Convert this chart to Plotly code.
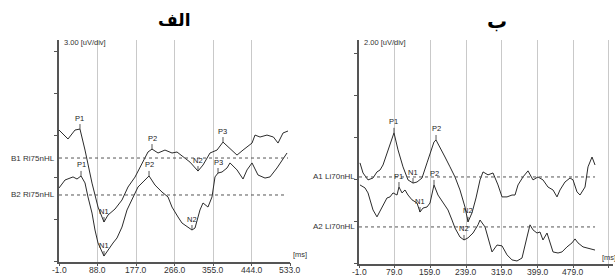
import numpy as np
import plotly.graph_objects as go

# ---------------- DATA ----------------
# Panel "الف" (left): time in ms, amplitude in uV relative to each trace baseline
b1_time = [-1.0, 19.8, 36.0, 47.5, 59.1, 75.3, 89.2, 103.0, 112.3, 128.5, 144.6, 158.5, 174.7,
           190.9, 204.7, 214.0, 227.9, 244.0, 260.2, 271.8, 285.7, 301.8, 320.3, 331.9, 348.1,
           364.3, 378.1, 394.3, 410.5, 424.4, 445.2, 452.1, 463.7, 479.8, 494.7, 505.3, 516.9, 528.4]
b1_amp = [2.0, 1.36, 2.0, 2.07, 0.57, -1.79, -3.5, -4.57, -4.07, -3.64, -3.0, -2.07, -1.36,
          -0.36, 0.43, 0.64, 0.36, 0.57, 0.36, 0.43, 0.07, -0.29, -0.93, -0.5, 0.36,
          0.57, 1.14, 0.71, 0.21, 0.57, 1.07, 1.64, 1.5, 1.64, 1.5, 1.07, 1.79, 1.93]

b2_time = [-1.0, 12.9, 31.4, 40.6, 49.9, 59.1, 66.0, 75.3, 82.2, 89.2, 103.0, 112.3, 123.8,
           133.1, 144.6, 156.2, 170.1, 181.6, 193.2, 207.1, 220.9, 237.1, 251.0, 260.2, 274.1,
           283.3, 306.4, 313.4, 324.9, 331.9, 343.4, 352.7, 359.6, 366.6, 375.8, 387.4, 394.3,
           410.5, 424.4, 433.6, 445.2, 459.0, 475.2, 486.8, 502.9, 514.5, 526.1]
b2_amp = [0.5, 1.07, 1.29, 1.14, 1.36, 0.86, -0.14, -1.29, -2.5, -3.43, -4.36, -3.93, -3.43,
          -3.07, -2.29, -1.07, -0.14, 0.57, 0.93, 1.36, 0.71, 0.21, -0.14, -0.86, -1.57,
          -2.0, -2.5, -2.36, -1.07, -0.57, -0.86, -0.14, 1.29, 1.57, 1.64, 1.93, 2.29,
          1.79, 1.14, 1.79, 2.29, 1.43, 1.21, 1.29, 1.93, 2.5, 3.0]

# Panel "ب" (right)
a1_time = [1.2, 8.0, 19.2, 30.4, 39.3, 46.1, 52.8, 64.0, 73.0, 77.4, 86.4, 97.6, 108.8, 120.0,
           129.0, 140.2, 151.4, 160.4, 167.1, 171.6, 180.5, 191.7, 202.9, 214.1, 225.3, 236.5,
           243.3, 252.2, 261.2, 270.2, 276.9, 288.1, 299.3, 310.5, 319.5, 330.7, 341.9, 348.6,
           355.3, 366.5, 377.7, 388.9, 400.1, 411.3, 422.5, 433.8, 442.7, 449.4, 460.6, 471.9,
           478.6, 487.5, 494.3, 505.5, 512.2, 521.2, 527.9]
a1_amp = [0.67, 0.19, -0.14, -0.05, 0.24, 0.33, 0.57, 1.29, 1.90, 2.10, 1.29, 0.48, -0.14, -0.29,
          -0.24, -0.05, 0.67, 1.29, 1.67, 1.76, 1.43, 0.95, 0.48, 0.0, -0.62, -1.43,
          -2.14, -1.71, -1.0, -0.14, 0.24, 0.1, 0.19, -0.38, -0.95, -0.95, -0.86, -0.86,
          -0.38, 0.0, 0.29, -0.14, 0.0, -0.14, -0.48, -0.62, -0.95, -0.62, -0.24, -0.05,
          -0.14, -0.71, -0.86, -0.48, 0.48, 0.95, 0.57]

a2_time = [1.2, 12.4, 19.2, 30.4, 39.3, 50.5, 61.7, 68.5, 75.2, 84.2, 88.6, 95.4, 102.1, 108.8,
           117.8, 129.0, 135.7, 142.4, 151.4, 158.1, 167.1, 176.0, 187.2, 198.4, 207.4, 214.1,
           225.3, 234.3, 243.3, 254.5, 265.7, 270.2, 281.4, 288.1, 297.1, 308.3, 319.5, 330.7,
           341.9, 353.1, 364.3, 375.5, 382.2, 388.9, 397.9, 404.6, 411.3, 420.3, 427.0, 433.8,
           445.0, 453.9, 465.1, 476.3, 483.1, 489.8, 501.0, 512.2, 527.9]
a2_amp = [2.0, 1.86, 1.62, 0.81, 0.48, 0.95, 1.38, 1.43, 1.62, 1.52, 1.90, 1.62, 1.76, 1.52,
          1.29, 1.14, 0.71, 0.90, 0.95, 1.14, 2.0, 1.52, 1.14, 0.81, 0.33, -0.05,
          -0.48, -0.62, -0.52, -0.29, 0.10, 0.33, 0.0, -0.48, -1.19, -0.86, -0.90, -1.33,
          -1.57, -1.62, -1.48, -0.48, 0.10, -0.14, -0.29, -0.24, -0.62, -0.29, -0.76, -1.19,
          -1.24, -1.19, -0.95, -0.76, -0.57, -0.76, -0.95, -1.0, -1.10]

# Peak labels and latencies (ms)
b1_peaks = [("P1", 47.5), ("N1", 103.0), ("P2", 214.0), ("N2", 320.3), ("P3", 378.1)]
b2_peaks = [("P1", 49.9), ("N1", 103.0), ("P2", 207.1), ("N2", 306.4), ("P3", 366.6)]
a1_peaks = [("P1", 77.4), ("N1", 120.0), ("P2", 171.6), ("N2", 243.3)]
a2_peaks = [("P1", 88.6), ("N1", 135.7), ("P2", 167.1), ("N2", 234.3)]

left_ticks = [-1.0, 88.0, 177.0, 266.0, 355.0, 444.0, 533.0]
right_ticks = [-1.0, 79.0, 159.0, 239.0, 319.0, 399.0, 479.0]
right_grid_extra = [559.0]

panel_titles = ["الف", "ب"]
left_names = ["B1 Ri75nHL", "B2 Ri75nHL"]
right_names = ["A1 Li70nHL", "A2 Li70nHL"]
scales = ["3.00 [uV/div]", "2.00 [uV/div]"]

# ---------------- LAYOUT CONSTANTS ----------------
W, H = 615, 277
left_off = [7.39, 4.75]     # baselines (uV above bottom of axis)
right_off = [4.12, 1.74]
LINE = "#2b2b2b"
FONT = "Liberation Sans, Arial, sans-serif"

fig = go.Figure()

def add_trace(t, a, off, xa, ya):
    fig.add_trace(go.Scatter(x=t, y=np.array(a) + off, mode="lines", xaxis=xa, yaxis=ya,
                             line=dict(color=LINE, width=1), hoverinfo="skip", showlegend=False))

add_trace(b1_time, b1_amp, left_off[0], "x", "y")
add_trace(b2_time, b2_amp, left_off[1], "x", "y")
add_trace(a1_time, a1_amp, right_off[0], "x2", "y2")
add_trace(a2_time, a2_amp, right_off[1], "x2", "y2")

annotations = []
shapes = []

def peaks(plist, t, a, off, xr, yr, ay=-11):
    for name, lat in plist:
        yv = float(np.interp(lat, t, a)) + off
        annotations.append(dict(x=lat, y=yv, xref=xr, yref=yr, text=name, showarrow=True,
                                arrowhead=0, arrowwidth=0.8, arrowcolor=LINE, ax=0, ay=ay,
                                font=dict(family=FONT, size=7.5, color="#222"),
                                bgcolor="rgba(0,0,0,0)"))

peaks(b1_peaks, b1_time, b1_amp, left_off[0], "x", "y")
peaks(b2_peaks, b2_time, b2_amp, left_off[1], "x", "y")
peaks(a1_peaks, a1_time, a1_amp, right_off[0], "x2", "y2")
peaks(a2_peaks, a2_time, a2_amp, right_off[1], "x2", "y2")

def baseline(t, off, xr, yr):
    shapes.append(dict(type="line", xref=xr, yref=yr, x0=-1, x1=t[-1], y0=off, y1=off,
                       line=dict(color="#555", width=1, dash="dot")))

baseline(b1_time, left_off[0], "x", "y")
baseline(b2_time, left_off[1], "x", "y")
baseline(a1_time, right_off[0], "x2", "y2")
baseline(a2_time, right_off[1], "x2", "y2")

# channel names
for nm, off in zip(left_names, left_off):
    annotations.append(dict(x=57 / W, y=off, xref="paper", yref="y", text=nm, showarrow=False,
                            xanchor="right", yanchor="middle",
                            font=dict(family=FONT, size=8, color="#333")))
for nm, off in zip(right_names, right_off):
    annotations.append(dict(x=357 / W, y=off, xref="paper", yref="y2", text=nm, showarrow=False,
                            xanchor="right", yanchor="middle",
                            font=dict(family=FONT, size=8, color="#333")))

# x tick labels drawn as text just below the axis
for v in left_ticks:
    annotations.append(dict(x=v, y=1 - 270 / H, xref="x", yref="paper", text="%.1f" % v,
                            showarrow=False, xanchor="center", yanchor="middle",
                            font=dict(family=FONT, size=8.5, color="#333")))
for v in right_ticks:
    annotations.append(dict(x=v, y=1 - 272 / H, xref="x2", yref="paper", text="%.1f" % v,
                            showarrow=False, xanchor="center", yanchor="middle",
                            font=dict(family=FONT, size=8.5, color="#333")))

# scale labels
annotations.append(dict(x=62 / W, y=1 - 43 / H, xref="paper", yref="paper", text=scales[0],
                        showarrow=False, xanchor="left", yanchor="middle",
                        font=dict(family=FONT, size=7.5, color="#333")))
annotations.append(dict(x=362 / W, y=1 - 43 / H, xref="paper", yref="paper", text=scales[1],
                        showarrow=False, xanchor="left", yanchor="middle",
                        font=dict(family=FONT, size=7.5, color="#333")))
# [ms]
annotations.append(dict(x=300 / W, y=1 - 254 / H, xref="paper", yref="paper", text="[ms]",
                        showarrow=False, xanchor="center", yanchor="middle",
                        font=dict(family=FONT, size=7.5, color="#333")))
annotations.append(dict(x=600 / W, y=1 - 257 / H, xref="paper", yref="paper", text="[ms]",
                        showarrow=False, xanchor="left", yanchor="middle",
                        font=dict(family=FONT, size=7.5, color="#333")))
# panel titles
annotations.append(dict(x=174 / W, y=1 - 20 / H, xref="paper", yref="paper", text="<b>" + panel_titles[0] + "</b>",
                        showarrow=False, xanchor="center", yanchor="middle",
                        font=dict(family="DejaVu Sans, Noto Sans", size=17, color="#000")))
annotations.append(dict(x=497 / W, y=1 - 21 / H, xref="paper", yref="paper", text="<b>" + panel_titles[1] + "</b>",
                        showarrow=False, xanchor="center", yanchor="middle",
                        font=dict(family="DejaVu Sans, Noto Sans", size=20, color="#000")))

xcommon = dict(showgrid=True, gridcolor="#c9c9c9", gridwidth=1, zeroline=False, showline=True,
               linecolor="#555", linewidth=1.5, ticks="outside", ticklen=3, tickcolor="#555",
               showticklabels=False, fixedrange=True)
ycommon = dict(showgrid=False, zeroline=False, showline=True, linecolor="#555", linewidth=1.5,
               ticks="outside", ticklen=3, tickcolor="#555", showticklabels=False, fixedrange=True)

fig.update_layout(
    width=W, height=H, autosize=False,
    margin=dict(l=0, r=0, t=0, b=0),
    paper_bgcolor="white", plot_bgcolor="white",
    xaxis=dict(domain=[59 / W, 290 / W], range=[-1, 533], tickvals=left_ticks, anchor="y", **xcommon),
    yaxis=dict(domain=[15.5 / H, 237 / H], range=[0, 15.82], tickvals=[0, 3, 6, 9, 12, 15],
               anchor="x", **ycommon),
    xaxis2=dict(domain=[359 / W, 613 / W], range=[-1, 568.2], tickvals=right_ticks + right_grid_extra,
                anchor="y2", **xcommon),
    yaxis2=dict(domain=[13.5 / H, 237 / H], range=[0, 10.64], tickvals=[0, 2, 4, 6, 8, 10],
                anchor="x2", **ycommon),
    annotations=annotations,
    shapes=shapes,
)

fig.write_html("out.html", config={"displayModeBar": False},
               post_script="document.body.style.margin='0';document.body.style.padding='0';"
                           "document.body.style.overflow='hidden';")
